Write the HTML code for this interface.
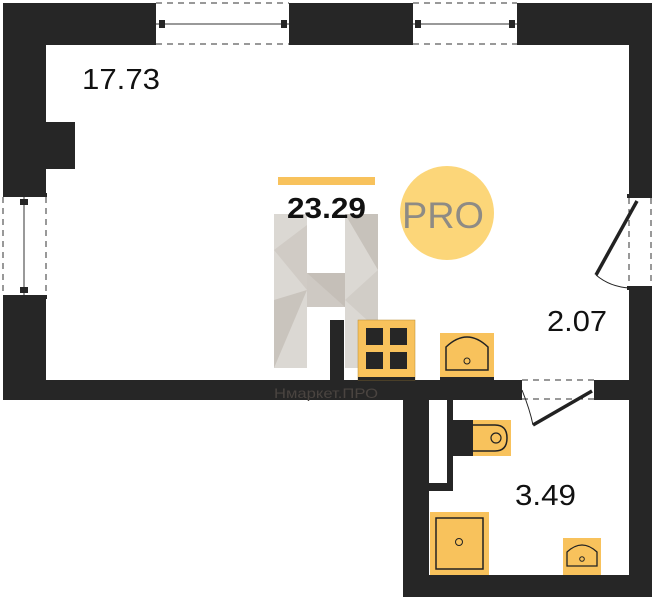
<!DOCTYPE html>
<html><head><style>
html,body{margin:0;padding:0;background:#fff;}
svg{display:block;}
text{font-family:"Liberation Sans","DejaVu Sans",sans-serif;}
</style></head><body>
<svg width="654" height="600" viewBox="0 0 654 600" xmlns="http://www.w3.org/2000/svg">
<rect width="654" height="600" fill="#fff"/>
<g opacity="0.9">
<rect x="274" y="214" width="33" height="154" fill="#d8d4cf"/>
<rect x="345" y="214" width="33" height="154" fill="#d8d4cf"/>
<rect x="307" y="273" width="38" height="34" fill="#c9c4bd"/>
<polygon points="274,250 307,225 307,290" fill="#cbc6bf"/>
<polygon points="274,300 307,290 274,368" fill="#c4beb6"/>
<polygon points="345,214 378,214 378,270" fill="#c2bcb4"/>
<polygon points="345,300 378,270 378,330" fill="#cdc8c1"/>
<polygon points="307,273 345,273 345,307" fill="#bfb9b1"/>
</g>
<g fill="#262626">
<rect x="3" y="3" width="150" height="42"/>
<rect x="290" y="3" width="120" height="42"/>
<rect x="518" y="3" width="134" height="42"/>
<rect x="3" y="3" width="43" height="192"/>
<rect x="46" y="122" width="29" height="47"/>
<rect x="3" y="296" width="43" height="104"/>
<rect x="629" y="3" width="23" height="193"/>
<rect x="629" y="287" width="23" height="310"/>
<rect x="3" y="380" width="515" height="20"/>
<rect x="597" y="380" width="40" height="20"/>
<rect x="330" y="320" width="14" height="60"/>
<rect x="403" y="380" width="26" height="217"/>
<rect x="403" y="575" width="249" height="22"/>
<rect x="447" y="400" width="6" height="91"/>
<rect x="429" y="483" width="24" height="8"/>
<rect x="3" y="193" width="44" height="4"/>
<rect x="3" y="295" width="44" height="4"/>
<rect x="152" y="3" width="4" height="42"/>
<rect x="289" y="3" width="4" height="42"/>
<rect x="409" y="3" width="4" height="42"/>
<rect x="517" y="3" width="4" height="42"/>
<rect x="627" y="194" width="25" height="4"/>
<rect x="627" y="286" width="25" height="4"/>
<rect x="518" y="380" width="4" height="20"/>
<rect x="594" y="380" width="4" height="20"/>
</g>
<g stroke="#333" stroke-width="1" fill="none">
<line x1="156" y1="24" x2="289" y2="24"/>
<line x1="413" y1="24" x2="517" y2="24"/>
<line x1="24" y1="197" x2="24" y2="295"/>
</g>
<g stroke="#333" stroke-width="1" stroke-dasharray="6,5" fill="none">
<line x1="156" y1="3" x2="289" y2="3"/><line x1="156" y1="44" x2="289" y2="44"/>
<line x1="413" y1="3" x2="517" y2="3"/><line x1="413" y1="44" x2="517" y2="44"/>
<line x1="3" y1="197" x2="3" y2="295"/><line x1="46" y1="197" x2="46" y2="295"/>
<line x1="629" y1="198" x2="629" y2="286"/><line x1="651" y1="198" x2="651" y2="286"/>
<line x1="522" y1="380" x2="594" y2="380"/><line x1="522" y1="399" x2="594" y2="399"/>
</g>
<g fill="#262626">
<rect x="159" y="20" width="6" height="8"/><rect x="281" y="20" width="6" height="8"/>
<rect x="415" y="20" width="6" height="8"/><rect x="509" y="20" width="6" height="8"/>
<rect x="20" y="199" width="8" height="6"/><rect x="20" y="287" width="8" height="6"/>
</g>
<line x1="637" y1="201" x2="596" y2="275" stroke="#222" stroke-width="3.5"/>
<path d="M596,275 Q610,287 630,288" stroke="#222" stroke-width="1" fill="none"/>
<line x1="592" y1="391" x2="533" y2="425" stroke="#222" stroke-width="3.5"/>
<path d="M522,390 Q530,410 533,425" stroke="#222" stroke-width="1" fill="none"/>
<rect x="358" y="320" width="57" height="60" fill="#f8c25c" stroke="#b88a30" stroke-width="0.5"/>
<rect x="358" y="377" width="57" height="3" fill="#262626"/>
<g fill="#262626"><rect x="366" y="328" width="17" height="17"/><rect x="390" y="328" width="17" height="17"/><rect x="366" y="352" width="17" height="17"/><rect x="390" y="352" width="17" height="17"/></g>
<rect x="440" y="333" width="54" height="47" fill="#f8c25c"/>
<rect x="440" y="377" width="54" height="3" fill="#262626"/>
<path d="M446,370 L446,347 Q467,327 488,347 L488,370 Z" fill="none" stroke="#222" stroke-width="1.5"/>
<circle cx="467" cy="361" r="3" fill="none" stroke="#222" stroke-width="1"/>
<rect x="453" y="420" width="20" height="36" fill="#262626"/>
<rect x="473" y="420" width="38" height="36" fill="#f8c25c"/>
<path d="M473,425 L495,425 Q507,425 507,438 Q507,451 495,451 L473,451" fill="none" stroke="#222" stroke-width="1.5"/>
<circle cx="496" cy="438" r="5" fill="none" stroke="#222" stroke-width="1.2"/>
<rect x="430" y="512" width="59" height="63" fill="#f8c25c"/>
<rect x="436" y="518" width="47" height="51" fill="none" stroke="#222" stroke-width="1.5"/>
<circle cx="459" cy="542" r="3.5" fill="none" stroke="#222" stroke-width="1"/>
<rect x="563" y="538" width="38" height="37" fill="#f8c25c"/>
<path d="M567,566 L567,552 Q582,538 597,552 L597,566 Z" fill="none" stroke="#222" stroke-width="1.3"/>
<circle cx="582" cy="559" r="2.3" fill="none" stroke="#222" stroke-width="1"/>
<rect x="278" y="177" width="97" height="8" fill="#f8c25c"/>
<ellipse cx="447" cy="213" rx="47" ry="47" fill="#fcd679"/>
<text x="402" y="228" font-size="37" fill="#8e8b85" textLength="82" lengthAdjust="spacingAndGlyphs">PRO</text>
<text x="82" y="89" font-size="29" fill="#111" textLength="78" lengthAdjust="spacingAndGlyphs">17.73</text>
<text x="287" y="218" font-size="29" font-weight="bold" fill="#111" textLength="79" lengthAdjust="spacingAndGlyphs">23.29</text>
<text x="547" y="331" font-size="29" fill="#111" textLength="60" lengthAdjust="spacingAndGlyphs">2.07</text>
<text x="515" y="505" font-size="29" fill="#111" textLength="61" lengthAdjust="spacingAndGlyphs">3.49</text>
<text x="274" y="398" font-size="14" fill="#4a4440" textLength="104" lengthAdjust="spacingAndGlyphs">Нмаркет.ПРО</text>
</svg>
</body></html>
